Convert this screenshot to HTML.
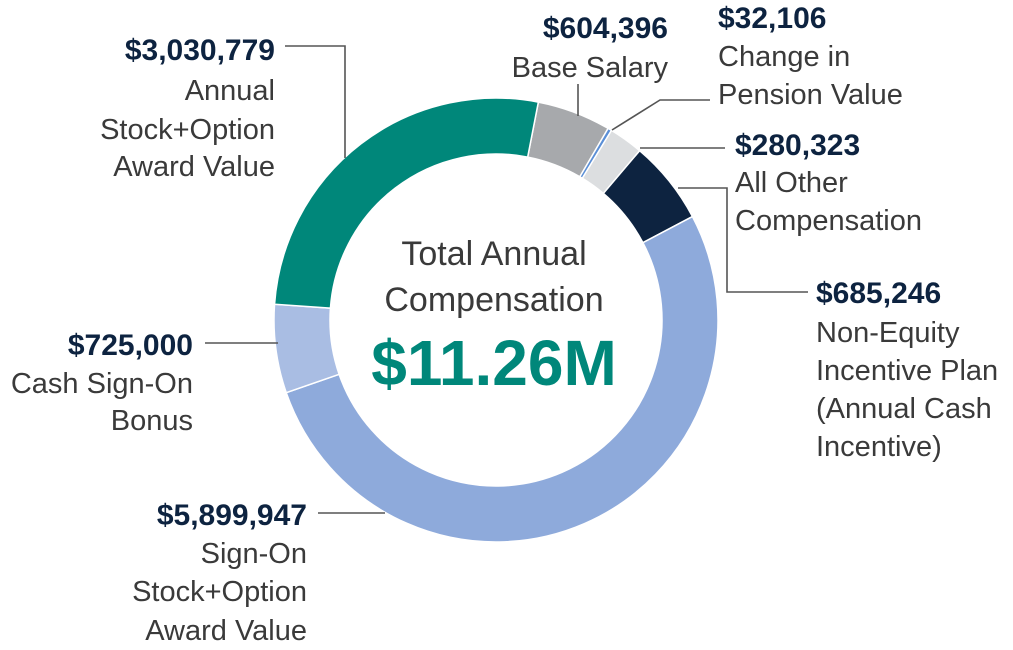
<!DOCTYPE html>
<html><head><meta charset="utf-8">
<style>
html,body{margin:0;padding:0;background:#fff;}
svg{display:block;font-family:"Liberation Sans",sans-serif;}
.v{font-weight:bold;font-size:30px;fill:#0d2340;}
.l{font-size:29px;fill:#3a3a3a;}
.ld{stroke:#555;stroke-width:1.6;fill:none;}
</style></head>
<body>
<svg id="chart" width="1013" height="650" viewBox="0 0 1013 650">
<g id="slices"></g>
<g>
<text x="494" y="265" text-anchor="middle" font-size="34" fill="#3a3a3a">Total Annual</text>
<text x="494" y="311" text-anchor="middle" font-size="34" fill="#3a3a3a">Compensation</text>
<text x="494" y="385" text-anchor="middle" font-size="64" font-weight="bold" fill="#00877a">$11.26M</text>
</g>
<g>
<polyline class="ld" points="285,46 345,46 345,158"/>
<text class="v" x="275" y="60" text-anchor="end">$3,030,779</text>
<text class="l" x="275" y="100" text-anchor="end">Annual</text>
<text class="l" x="275" y="139" text-anchor="end">Stock+Option</text>
<text class="l" x="275" y="176" text-anchor="end">Award Value</text>
</g>
<g>
<polyline class="ld" points="578,84 578,116"/>
<text class="v" x="668" y="38" text-anchor="end">$604,396</text>
<text class="l" x="668" y="77" text-anchor="end">Base Salary</text>
</g>
<g>
<polyline class="ld" points="710,100 660,100 612,130"/>
<text class="v" x="718" y="28">$32,106</text>
<text class="l" x="718" y="66">Change in</text>
<text class="l" x="718" y="104">Pension Value</text>
</g>
<g>
<polyline class="ld" points="725,148 640,148"/>
<text class="v" x="735" y="155">$280,323</text>
<text class="l" x="735" y="192">All Other</text>
<text class="l" x="735" y="230">Compensation</text>
</g>
<g>
<polyline class="ld" points="808,292 727,292 727,188 678,188"/>
<text class="v" x="816" y="303">$685,246</text>
<text class="l" x="816" y="342">Non-Equity</text>
<text class="l" x="816" y="380">Incentive Plan</text>
<text class="l" x="816" y="418">(Annual Cash</text>
<text class="l" x="816" y="456">Incentive)</text>
</g>
<g>
<polyline class="ld" points="205,343 278,343"/>
<text class="v" x="193" y="355" text-anchor="end">$725,000</text>
<text class="l" x="193" y="393" text-anchor="end">Cash Sign-On</text>
<text class="l" x="193" y="430" text-anchor="end">Bonus</text>
</g>
<g>
<polyline class="ld" points="318,513 385,513"/>
<text class="v" x="307" y="525" text-anchor="end">$5,899,947</text>
<text class="l" x="307" y="563" text-anchor="end">Sign-On</text>
<text class="l" x="307" y="601" text-anchor="end">Stock+Option</text>
<text class="l" x="307" y="640" text-anchor="end">Award Value</text>
</g>
</svg>
<script>
const categories = ["Base Salary","Change in Pension Value","All Other Compensation","Non-Equity Incentive Plan","Sign-On Stock+Option Award Value","Cash Sign-On Bonus","Annual Stock+Option Award Value"];
const values = [604396, 32106, 280323, 685246, 5899947, 725000, 3030779];
const colors = ["#a7a9ac","#5b8fd6","#dcdee0","#0d2340","#8eaadb","#a9bde3","#00877a"];
const cx=496, cy=320, R=222, r=166, startDeg=11;
const total = values.reduce((a,b)=>a+b,0);
const g = document.getElementById('slices');
function pt(rad,deg){const a=(deg-90)*Math.PI/180;return [cx+rad*Math.cos(a),cy+rad*Math.sin(a)];}
let acc = startDeg;
values.forEach((v,i)=>{
  const sweep = v/total*360;
  const a0=acc, a1=acc+sweep; acc=a1;
  const large = sweep>180?1:0;
  const p0=pt(R,a0),p1=pt(R,a1),q1=pt(r,a1),q0=pt(r,a0);
  const d=`M${p0[0]},${p0[1]} A${R},${R} 0 ${large} 1 ${p1[0]},${p1[1]} L${q1[0]},${q1[1]} A${r},${r} 0 ${large} 0 ${q0[0]},${q0[1]} Z`;
  const p=document.createElementNS('http://www.w3.org/2000/svg','path');
  p.setAttribute('d',d);
  p.setAttribute('fill',colors[i]);
  p.setAttribute('stroke','#fff');
  p.setAttribute('stroke-width','1.5');
  
  
  g.appendChild(p);
});
</script>
</body></html>
